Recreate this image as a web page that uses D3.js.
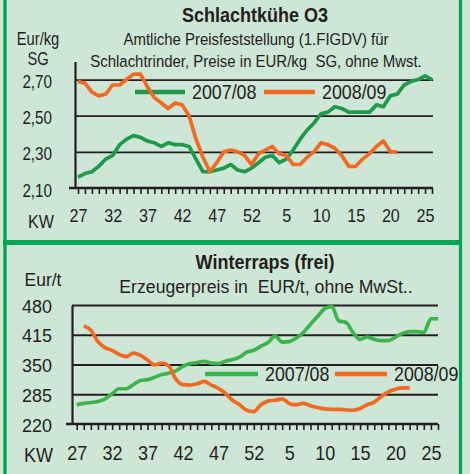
<!DOCTYPE html>
<html>
<head>
<meta charset="utf-8">
<script src="https://cdn.jsdelivr.net/npm/d3@7"></script>
<style>
  html, body { margin: 0; padding: 0; background: #cde6d5; }
  svg { display: block; font-family: "Liberation Sans", Arial, sans-serif; }
</style>
</head>
<body>
<div id="chart"></div>
<script>
// Kalenderwochen 27..52, 1..26
const weeks = d3.range(27, 53).concat(d3.range(1, 27));
const tickWeeks = [27, 32, 37, 42, 47, 52, 5, 10, 15, 20, 25];
const seriesNames = ['2007/08', '2008/09'];

// Schlachtkühe O3, EUR/kg SG
const kuhe0708 = [2.16, 2.18, 2.19, 2.22, 2.26, 2.28, 2.34, 2.37, 2.39, 2.38,
                  2.36, 2.35, 2.33, 2.35, 2.34, 2.34, 2.33, 2.26, 2.19, 2.19,
                  2.20, 2.21, 2.23, 2.20, 2.19, 2.21, 2.24, 2.27, 2.28, 2.24,
                  2.26, 2.31, 2.37, 2.42, 2.46, 2.51, 2.52, 2.55, 2.54, 2.52,
                  2.52, 2.52, 2.52, 2.56, 2.55, 2.61, 2.62, 2.67, 2.69, 2.70,
                  2.72, 2.70];
const kuhe0809 = [2.69, 2.68, 2.63, 2.61, 2.62, 2.67, 2.67, 2.70, 2.73, 2.73,
                  2.66, 2.60, 2.57, 2.54, 2.57, 2.56, 2.50, 2.37, 2.27, 2.19,
                  2.24, 2.30, 2.31, 2.30, 2.28, 2.23, 2.29, 2.31, 2.33, 2.29,
                  2.28, 2.23, 2.23, 2.27, 2.30, 2.35, 2.34, 2.32, 2.28, 2.22,
                  2.22, 2.26, 2.29, 2.33, 2.36, 2.30, 2.30];
const kuheTicks = [2.10, 2.30, 2.50, 2.70];

// Winterraps (frei), EUR/t
const raps0708 = [262, 265, 267, 269, 275, 286, 297, 297, 306, 315,
                  317, 322, 328, 331, 336, 346, 352, 354, 357, 353,
                  352, 357, 361, 366, 377, 381, 390, 398, 412, 399,
                  400, 408, 420, 438, 455, 472, 477, 445, 442, 420,
                  405, 410, 405, 402, 402, 410, 418, 422, 422, 420,
                  450, 450];
const raps0809 = [null, 434, 425, 400, 387, 381, 372, 367, 375, 370,
                  360, 349, 353, 347, 318, 306, 305, 308, 313, 305,
                  298, 287, 272, 262, 250, 247, 262, 270, 272, 275,
                  265, 262, 265, 260, 256, 253, 252, 252, 251, 250,
                  254, 262, 268, 280, 290, 296, 299, 299];
const rapsTicks = [220, 285, 350, 415, 480];

const W = 470, H = 474;
const ink = '#231f20';
const colors = { green1: '#1e9a4a', green2: '#3cb44b', orange: '#f26a22', frame: '#00a651' };

const svg = d3.select('#chart').append('svg')
    .attr('width', W)
    .attr('height', H);

svg.append('rect').attr('width', W).attr('height', H).attr('fill', '#cde6d5');

// schmale Schrift nachbilden
function squeeze(texts, sx) {
    texts.each(function() {
        const t = d3.select(this);
        const x = +t.attr('x') || 0;
        t.attr('x', x / sx).attr('transform', `scale(${sx},1)`);
    });
}

function label(g, x, y, s, size, anchor, bold, sx = 0.87) {
    return g.append('g').attr('transform', `translate(${x},${y})`)
        .append('text')
        .attr('text-anchor', anchor)
        .attr('transform', `scale(${sx},1)`)
        .style('font-size', size + 'px')
        .style('font-weight', bold ? 'bold' : 'normal')
        .style('white-space', 'pre')
        .attr('fill', ink)
        .text(s);
}

function drawPanel(cfg) {
    const g = svg.append('g');
    const fs = cfg.fs;

    const x = d3.scalePoint().domain(weeks).range(cfg.xRange);
    const y = d3.scaleLinear().domain(cfg.yDomain).range(cfg.yRange);

    // Gitterlinien
    const grid = g.append('g')
        .attr('transform', `translate(${cfg.axisX},0)`)
        .call(d3.axisLeft(y).tickValues(cfg.grid).tickSize(-(cfg.right - cfg.axisX)).tickFormat(''));
    grid.select('.domain').remove();
    grid.selectAll('line').attr('stroke', ink).attr('stroke-width', 1.8);

    // y-Achse
    const ya = g.append('g')
        .attr('transform', `translate(${cfg.axisX},0)`)
        .call(d3.axisLeft(y).tickValues(cfg.ticks).tickSize(0).tickSizeOuter(0).tickFormat(cfg.fmt));
    ya.select('.domain').attr('stroke', ink).attr('stroke-width', 2.2);
    ya.selectAll('text')
        .attr('x', -cfg.yLabelGap)
        .attr('dy', cfg.yLabelDy)
        .attr('fill', ink)
        .style('font-size', fs.ylab[0] + 'px')
        .style('font-family', '"Liberation Sans", Arial, sans-serif');
    squeeze(ya.selectAll('text'), fs.ylab[1]);

    // x-Achse mit Wochenstrichen
    const xa = g.append('g')
        .attr('transform', `translate(0,${cfg.yRange[0]})`)
        .call(d3.axisBottom(x).tickSize(cfg.tickLen).tickSizeOuter(0).tickFormat(''));
    xa.select('.domain').remove();
    xa.selectAll('line').attr('stroke', ink).attr('stroke-width', 1.6);
    g.append('line')
        .attr('x1', cfg.axisX - 6).attr('x2', cfg.right)
        .attr('y1', cfg.yRange[0]).attr('y2', cfg.yRange[0])
        .attr('stroke', ink).attr('stroke-width', 2.4);

    const xl = g.append('g')
        .attr('transform', `translate(0,${cfg.yRange[0]})`)
        .call(d3.axisBottom(x).tickValues(tickWeeks).tickSize(0));
    xl.select('.domain').remove();
    xl.selectAll('text')
        .attr('y', cfg.xLabelY)
        .attr('dy', 0)
        .attr('fill', ink)
        .style('font-size', fs.xlab[0] + 'px')
        .style('font-family', '"Liberation Sans", Arial, sans-serif');
    squeeze(xl.selectAll('text'), fs.xlab[1]);

    // Legende
    cfg.legend.forEach((l, i) => {
        g.append('line')
            .attr('x1', l.x).attr('x2', l.x + l.len)
            .attr('y1', cfg.legendY).attr('y2', cfg.legendY)
            .attr('stroke', cfg.colors[i]).attr('stroke-width', 4.6);
        label(g, l.x + l.len + 7, cfg.legendY + 7, seriesNames[i], 20.5, 'start', false, 0.87);
    });

    // Linien
    cfg.series.forEach((data, i) => {
        const line = d3.line()
            .defined(d => d != null)
            .x((d, j) => x(weeks[j]))
            .y(d => y(d))
            .curve(cfg.curve);
        g.append('path')
            .datum(data)
            .attr('d', line)
            .attr('fill', 'none')
            .attr('stroke', cfg.colors[i])
            .attr('stroke-width', 3.7)
            .attr('stroke-linejoin', 'round');
    });

    // Texte
    label(g, cfg.titleX, cfg.titleY, cfg.title, 20, 'middle', true, 0.9);
    cfg.sub.forEach((s, i) => label(g, cfg.subX, cfg.subY + i * 22, s, fs.sub[0], 'middle', false, fs.sub[1]));
    cfg.unit.forEach((s, i) => label(g, cfg.unitX, cfg.unitY + i * 20, s, fs.unit[0], 'middle', false, fs.unit[1]));
    label(g, cfg.kwX, cfg.kwY, 'KW', fs.kw[0], 'middle', false, fs.kw[1]);
}

drawPanel({
    xRange: [78, 432], axisX: 75, right: 433,
    yDomain: [2.10, 2.80], yRange: [188, 61.5],
    grid: [2.30, 2.50, 2.70], ticks: kuheTicks,
    fmt: d => d.toFixed(2).replace('.', ','),
    yLabelGap: 23, yLabelDy: 8, tickLen: 6, xLabelY: 34,
    series: [kuhe0708, kuhe0809], colors: [colors.green1, colors.orange],
    curve: d3.curveLinear,
    legendY: 92, legend: [{ x: 135, len: 50 }, { x: 264, len: 51 }],
    title: 'Schlachtkühe O3', titleX: 255, titleY: 22,
    sub: ['Amtliche Preisfeststellung (1.FIGDV) für', 'Schlachtrinder, Preise in EUR/kg  SG, ohne Mwst.'],
    subX: 256, subY: 45,
    unit: ['Eur/kg', 'SG'], unitX: 38, unitY: 45,
    kwX: 41, kwY: 228,
    fs: { ylab: [17.5, 0.87], xlab: [19, 0.85], sub: [17, 0.88], unit: [17.5, 0.84], kw: [19, 0.85] }
});

drawPanel({
    xRange: [76.7, 438], axisX: 72, right: 438,
    yDomain: [220, 480], yRange: [424, 305],
    grid: [285, 350, 415, 480], ticks: rapsTicks,
    fmt: d3.format('d'),
    yLabelGap: 20, yLabelDy: 7, tickLen: 6, xLabelY: 36,
    series: [raps0708, raps0809], colors: [colors.green2, colors.orange],
    curve: d3.curveMonotoneX,
    legendY: 374, legend: [{ x: 205, len: 53 }, { x: 335, len: 52 }],
    title: 'Winterraps (frei)', titleX: 265, titleY: 269,
    sub: ['Erzeugerpreis in  EUR/t, ohne MwSt..'],
    subX: 266, subY: 293,
    unit: ['Eur/t'], unitX: 43, unitY: 286,
    kwX: 38.5, kwY: 462,
    fs: { ylab: [18.5, 0.97], xlab: [20, 0.9], sub: [19, 0.93], unit: [19, 0.92], kw: [20, 0.9] }
});

// Rahmen
svg.append('line').attr('x1', 5).attr('x2', 5).attr('y1', 0).attr('y2', H)
    .attr('stroke', colors.frame).attr('stroke-width', 3.4);
svg.append('line').attr('x1', 460.5).attr('x2', 460.5).attr('y1', 0).attr('y2', H)
    .attr('stroke', colors.frame).attr('stroke-width', 3.2);
svg.append('line').attr('x1', 3).attr('x2', 462).attr('y1', 242.5).attr('y2', 242.5)
    .attr('stroke', colors.frame).attr('stroke-width', 5);
</script>
</body>
</html>
